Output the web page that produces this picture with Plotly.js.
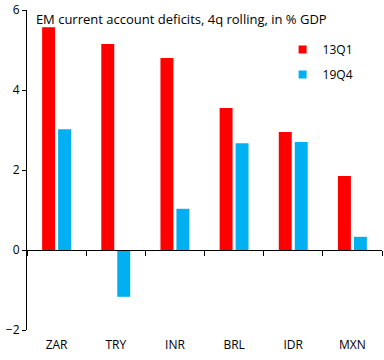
<!DOCTYPE html>
<html>
<head>
<meta charset="utf-8">
<script src="https://cdn.plot.ly/plotly-3.0.1.min.js"></script>
<style>html,body{margin:0;padding:0;background:#fff;}#chart{width:384px;height:360px;}</style>
</head>
<body>
<div id="chart"></div>
<script>
const categories = ["ZAR", "TRY", "INR", "BRL", "IDR", "MXN"];
const series13Q1 = [5.57, 5.15, 4.8, 3.55, 2.95, 1.85];
const series19Q4 = [3.02, -1.17, 1.03, 2.67, 2.7, 0.33];
const seriesNames = ["13Q1", "19Q4"];
const seriesColors = ["#FF0000", "#00B0F0"];
const yTicks = [-2, 0, 2, 4, 6];
const titleText = "EM current account deficits, 4q rolling, in % GDP";

const font = "Open Sans, Noto Sans, sans-serif";

const data = [
  {type: "bar", name: seriesNames[0], x: categories, y: series13Q1, marker: {color: seriesColors[0]}, showlegend: false},
  {type: "bar", name: seriesNames[1], x: categories, y: series19Q4, marker: {color: seriesColors[1]}, showlegend: false},
  {type: "scatter", mode: "markers", x: categories, y: categories.map(() => null), xaxis: "x2", yaxis: "y", showlegend: false, hoverinfo: "skip", marker: {opacity: 0}}
];
seriesNames.forEach((n, i) => {
  data.push({type: "scatter", mode: "markers", name: n, legendgroup: "g" + i, x: [null], y: [null], marker: {symbol: "square", size: 8, color: seriesColors[i]}, showlegend: true});
});

const layout = {
  width: 384, height: 360,
  margin: {l: 27, r: 2, t: 10, b: 30},
  paper_bgcolor: "#fff", plot_bgcolor: "#fff",
  font: {family: font, size: 12, color: "#000"},
  barmode: "group", bargap: 0.46, bargroupgap: 0.19,
  title: {text: titleText, font: {family: font, size: 13, color: "#000"}, xref: "paper", x: 0.025, xanchor: "left", yref: "paper", y: 0.985, yanchor: "top"},
  xaxis: {type: "category", categoryorder: "array", categoryarray: categories, range: [-0.5, 5.5], showline: false, showgrid: false, zeroline: false, ticks: "", ticklabelstandoff: 6, tickfont: {size: 12}},
  xaxis2: {type: "category", categoryorder: "array", categoryarray: categories, range: [-0.5, 5.5], overlaying: "x", anchor: "free", position: 0.25, showline: true, linecolor: "#000", linewidth: 1, showgrid: false, zeroline: false, ticks: "outside", tickson: "boundaries", ticklen: 5, tickcolor: "#000", showticklabels: false},
  yaxis: {range: [-2, 6], tickvals: yTicks, showline: true, linecolor: "#000", linewidth: 1, ticks: "outside", ticklen: 4, tickcolor: "#000", showgrid: false, zeroline: false, tickfont: {size: 12}},
  legend: {x: 0.72, y: 0.922, xanchor: "left", yanchor: "top", font: {size: 12}, bgcolor: "rgba(0,0,0,0)", tracegroupgap: 6, itemwidth: 30, traceorder: "grouped"}
};

Plotly.newPlot("chart", data, layout, {displayModeBar: false, staticPlot: true});
</script>
</body>
</html>
